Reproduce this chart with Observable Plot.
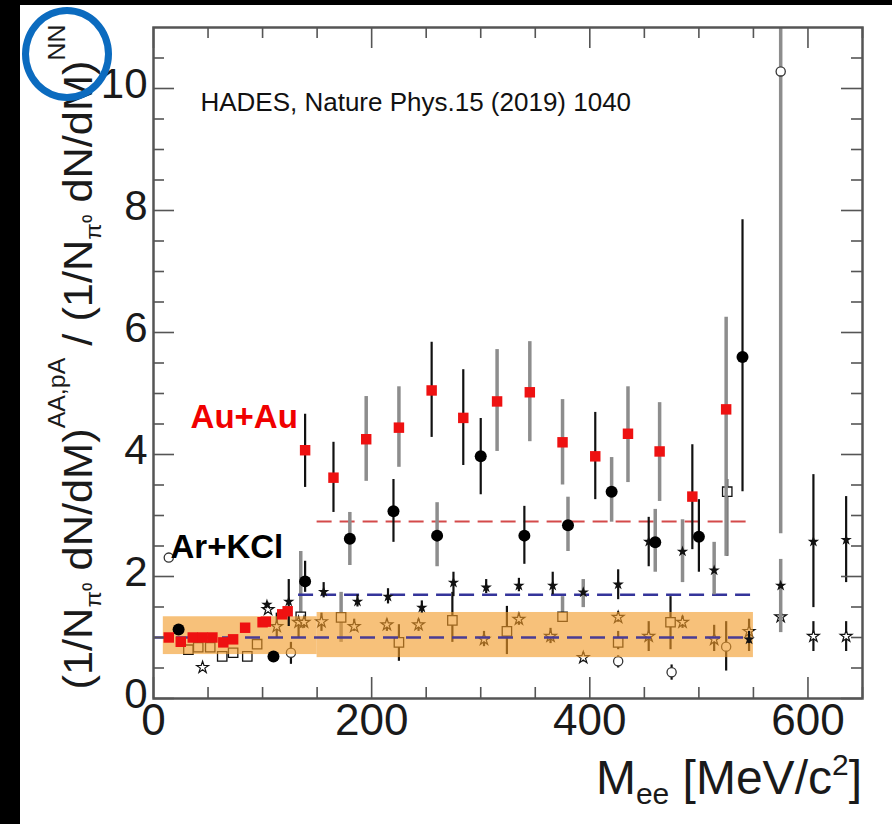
<!DOCTYPE html>
<html><head><meta charset="utf-8">
<script src="https://cdn.jsdelivr.net/npm/d3@7"></script>
<script src="https://cdn.jsdelivr.net/npm/@observablehq/plot@0.6"></script>
<style>
html,body{margin:0;padding:0;background:#fff;}
#wrap{position:relative;width:892px;height:824px;overflow:hidden;}
.bandL{position:absolute;left:0;top:0;width:20px;height:824px;background:#000;}
.bandT{position:absolute;left:0;top:0;width:892px;height:5px;background:#000;}
.ring{position:absolute;left:22px;top:7px;width:90px;height:94px;border:7px solid #0B6BBF;border-radius:50%;box-sizing:border-box;}
</style></head><body><div id="wrap"></div>
<script>
// ---------------- data ----------------
// Au+Au (red squares)
const auX  = [14,25,36,45,54,64,73,84,100,103,118,123, 139,165,195,225,255,284,315,345,375,405,435,464,494,525];
const auY  = [1.0,0.93,1.0,1.0,1.0,0.92,0.97,1.16,1.25,1.26,1.38,1.43, 4.07,3.62,4.25,4.44,5.05,4.6,4.87,5.02,4.2,3.97,4.34,4.05,3.31,4.74];
const auLo = [1.0,0.93,1.0,1.0,1.0,0.92,0.97,1.16,1.25,1.26,1.38,1.43, 3.46,3.05,3.56,3.79,4.28,3.82,4.05,4.21,3.5,3.26,3.54,3.23,2.44,2.33];
const auHi = [1.0,0.93,1.0,1.0,1.0,0.92,0.97,1.16,1.25,1.26,1.38,1.43, 4.66,4.2,4.95,5.11,5.84,5.39,5.72,5.85,4.9,4.69,5.11,4.85,4.16,6.25];
const auErr = ["stat","stat","stat","stat","stat","stat","stat","stat","stat","stat","stat","stat","stat","stat","sys","sys","stat","stat","sys","sys","sys","stat","sys","sys","stat","sys"];
// Ar+KCl (black circles)
const arX  = [23,110,139,180,220,260,300,340,380,420,460,500,540];
const arY  = [1.13,0.69,1.92,2.62,3.07,2.67,3.97,2.67,2.84,3.39,2.56,2.65,5.6];
const arLo = [1.13,0.69,1.74,2.18,2.56,2.16,3.34,2.2,2.41,2.89,2.07,2.07,3.39];
const arHi = [1.13,0.69,2.25,3.05,3.59,3.21,4.59,3.15,3.3,3.95,3.1,3.26,7.85];
const arErr = ["stat","stat","stat","sys","stat","sys","stat","stat","sys","sys","sys","stat","stat"];
// small filled stars
const paX  = [104,124,156,187,215,246,275,305,335,366,394,426,454,485,514,546,575,605,635];
const paY  = [1.54,1.59,1.75,1.59,1.67,1.49,1.9,1.82,1.85,1.85,1.74,1.87,2.57,2.41,2.1,0.97,1.85,2.57,2.6];
const paLo = [1.54,1.18,1.65,1.5,1.55,1.4,1.67,1.72,1.75,1.7,1.49,1.62,2.16,1.9,1.7,0.9,1.08,1.49,1.9];
const paHi = [1.54,1.95,1.9,1.7,1.8,1.6,2.07,1.95,1.97,2.07,1.95,2.11,2.97,2.93,2.56,1.1,2.28,3.67,3.31];
const paErr = ["stat","stat","stat","stat","stat","stat","stat","stat","stat","stat","sys","stat","stat","sys","sys","stat","sys","stat","stat"];
// open squares
const osqX  = [32,41,52,63,73,86,95,135,172,225,274,324,375,426,474,526];
const osqY  = [0.8,0.84,0.84,0.69,0.75,0.69,0.89,1.34,1.33,0.92,1.28,1.1,1.34,0.92,1.25,3.39];
const osqLo = [0.8,0.84,0.84,0.69,0.75,0.69,0.89,1.26,0.92,0.61,0.92,0.72,1.3,0.8,0.8,2.33];
const osqHi = [0.8,0.84,0.84,0.69,0.75,0.69,0.89,2.41,1.74,1.21,1.74,1.51,1.67,1.1,1.67,3.59];
const osqErr = ["stat","stat","stat","stat","stat","stat","stat","sys","sys","stat","stat","stat","sys","stat","stat","stat"];
// open stars
const ostX  = [45,105,113,133,138,154,184,214,243,303,335,364,394,426,454,485,514,546,575,605,635];
const ostY  = [0.51,1.46,1.18,1.25,1.25,1.26,1.18,1.21,1.21,0.97,1.3,1.02,0.67,1.33,1.02,1.25,0.97,1.1,1.34,1.02,1.02];
const ostLo = [0.45,1.4,1.0,1.0,1.15,1.1,1.1,1.1,1.1,0.85,1.2,0.9,0.6,1.25,0.77,1.15,0.77,0.77,1.25,0.77,0.77];
const ostHi = [0.57,1.55,1.4,1.35,1.35,1.4,1.3,1.3,1.3,1.1,1.4,1.15,0.75,1.42,1.26,1.35,1.2,1.3,1.45,1.26,1.26];
// open circles
const ociX  = [14,126,426,475,525,575];
const ociY  = [2.31,0.75,0.61,0.43,0.85,10.28];
const ociLo = [2.31,0.56,0.5,0.3,0.45,2.7];
const ociHi = [2.31,0.92,0.7,0.55,1.26,11.5];
const ociErr = ["stat","stat","stat","stat","stat","sys"];
// systematic band
const bandX1 = [9,150];
const bandX2 = [150,550];
const bandLo = [0.72,0.67];
const bandHi = [1.34,1.41];
// reference levels (dashed)
const refY  = [2.9,1.7,1.0];
const refX1 = [150,133,0];
const refX2 = [545,548,543];
const refName = ["AuAu","ArKCl","NN"];
// axis ticks
const xMajor = [0,200,400,600];
const xMinor = [50,100,150,250,300,350,450,500,550,650];
const yMajor = [0,2,4,6,8,10];
const yMinor = [0.5,1,1.5,2.5,3,3.5,4.5,5,5.5,6.5,7,7.5,8.5,9,9.5,10.5];

// ---------------- build ----------------
const tbl = (X,Y,L,Hh,E) => X.map((x,i)=>({x, y:Y[i], lo:L[i], hi:Hh[i], e: E ? E[i] : "stat"}));
const au = tbl(auX,auY,auLo,auHi,auErr);
const ar = tbl(arX,arY,arLo,arHi,arErr);
const pa = tbl(paX,paY,paLo,paHi,paErr);
const osq = tbl(osqX,osqY,osqLo,osqHi,osqErr);
const ost = tbl(ostX,ostY,ostLo,ostHi,null);
const oci = tbl(ociX,ociY,ociLo,ociHi,ociErr);
const band = bandX1.map((x1,i)=>({x1, x2:bandX2[i], y1:bandLo[i], y2:bandHi[i]}));
const refs = refY.map((y,i)=>({y, x1:refX1[i], x2:refX2[i], n:refName[i]}));

const W=892, H=824, mT=27, mR=30, mB=126, mL=153;
const fH = H-mT-mB, fW = W-mL-mR;
const GRAY="#8d8d8d", BLK="#111", AX="#555";
const FONT = "'Liberation Sans', Arial, Helvetica, sans-serif";

function bars(data){
  return [
    Plot.ruleX(data.filter(d=>d.e==="sys"), {x:"x", y1:"lo", y2:"hi", stroke:GRAY, strokeWidth:3.5, clip:true}),
    Plot.ruleX(data.filter(d=>d.e==="stat"), {x:"x", y1:"lo", y2:"hi", stroke:BLK, strokeWidth:2.2, clip:true})
  ];
}

const plot = Plot.plot({
  width: W, height: H,
  marginTop: mT, marginRight: mR, marginBottom: mB, marginLeft: mL,
  x: {domain:[0,650], axis:null},
  y: {domain:[0,11], axis:null},
  style: {background:"#fff", fontFamily: FONT, overflow:"visible"},
  marks: [
    // open symbols (beneath the band)
    ...bars(osq), ...bars(ost), ...bars(oci),
    Plot.dot(osq, {x:"x", y:"y", symbol:"square", r:5.3, fill:"#fff", stroke:BLK, strokeWidth:1.3, clip:true}),
    Plot.dot(ost, {x:"x", y:"y", symbol:"star", r:3.7, fill:"#fff", stroke:BLK, strokeWidth:1.2, clip:true}),
    Plot.dot(oci, {x:"x", y:"y", symbol:"circle", r:4.6, fill:"#fff", stroke:"#333", strokeWidth:1.3, clip:true}),
    // systematic band
    Plot.rect(band, {x1:"x1", x2:"x2", y1:"y1", y2:"y2", fill:"rgb(242,155,40)", fillOpacity:0.62}),
    // reference dashed lines
    Plot.ruleY(refs.filter(d=>d.n==="AuAu"), {y:"y", x1:"x1", x2:"x2", stroke:"#D44A4A", strokeWidth:2, strokeDasharray:"15,8"}),
    Plot.ruleY(refs.filter(d=>d.n==="ArKCl"), {y:"y", x1:"x1", x2:"x2", stroke:"#34349A", strokeWidth:2.4, strokeDasharray:"15,8"}),
    Plot.ruleY(refs.filter(d=>d.n==="NN"), {y:"y", x1:"x1", x2:"x2", stroke:"#4A3C94", strokeWidth:2.4, strokeDasharray:"15,8"}),
    // small filled stars
    ...bars(pa),
    Plot.dot(pa, {x:"x", y:"y", symbol:"star", r:3.6, fill:BLK, clip:true}),
    // Ar+KCl
    ...bars(ar),
    Plot.dot(ar, {x:"x", y:"y", r:6, fill:"#000", clip:true}),
    // Au+Au
    ...bars(au),
    Plot.dot(au, {x:"x", y:"y", symbol:"square", r:5.9, fill:"#EE1111", clip:true}),
    // frame + ticks
    Plot.frame({stroke:AX, strokeWidth:2.5}),
    Plot.ruleX(xMajor, {x:d=>d, insetTop:fH-21, stroke:AX, strokeWidth:1.6}),
    Plot.ruleX(xMajor, {x:d=>d, insetBottom:fH-21, stroke:AX, strokeWidth:1.6}),
    Plot.ruleX(xMinor, {x:d=>d, insetTop:fH-11, stroke:AX, strokeWidth:1.6}),
    Plot.ruleX(xMinor, {x:d=>d, insetBottom:fH-11, stroke:AX, strokeWidth:1.6}),
    Plot.ruleY(yMajor, {y:d=>d, insetRight:fW-21, stroke:AX, strokeWidth:1.6}),
    Plot.ruleY(yMajor, {y:d=>d, insetLeft:fW-21, stroke:AX, strokeWidth:1.6}),
    Plot.ruleY(yMinor, {y:d=>d, insetRight:fW-11, stroke:AX, strokeWidth:1.6}),
    Plot.ruleY(yMinor, {y:d=>d, insetLeft:fW-11, stroke:AX, strokeWidth:1.6}),
    // tick labels
    Plot.text(xMajor, {x:d=>d, text:d=>String(d), frameAnchor:"bottom", lineAnchor:"top", dy:5, fontSize:44, fill:"#1a1a1a"}),
    Plot.text(yMajor, {y:d=>d, text:d=>String(d), frameAnchor:"left", textAnchor:"end", dx:-6, dy:-4, fontSize:42, fill:"#1a1a1a"}),
    // annotations
    Plot.text(["HADES, Nature Phys.15 (2019) 1040"], {x:43, y:9.77, text:d=>d, textAnchor:"start", fontSize:26, fill:"#111"}),
    Plot.text(["Au+Au"], {x:34, y:4.61, text:d=>d, textAnchor:"start", fontSize:33, fontWeight:"bold", fill:"#F00000"}),
    Plot.text(["Ar+KCl"], {x:15.6, y:2.48, text:d=>d, textAnchor:"start", fontSize:33, fontWeight:"bold", fill:"#000"})
  ]
});

const svg = d3.select(plot);
// y-axis title
const yt = svg.append("text")
  .attr("transform","translate(92,357) rotate(-90)")
  .attr("text-anchor","middle").attr("font-size",40).attr("fill","#1a1a1a").attr("font-family",FONT)
  .attr("textLength",665).attr("lengthAdjust","spacingAndGlyphs");
yt.append("tspan").text("(1/N");
yt.append("tspan").attr("dy",9).attr("font-size",22).text("π⁰");
yt.append("tspan").attr("dy",-9).text(" dN/dM)");
yt.append("tspan").attr("dy",-27).attr("font-size",23).text("AA,pA");
yt.append("tspan").attr("dy",27).text(" / (1/N");
yt.append("tspan").attr("dy",9).attr("font-size",22).text("π⁰");
yt.append("tspan").attr("dy",-9).text(" dN/dM)");
yt.append("tspan").attr("dy",-27).attr("font-size",23).text("NN");
// x-axis title
const xt = svg.append("text")
  .attr("x",862).attr("y",794).attr("text-anchor","end")
  .attr("font-size",48).attr("fill","#1a1a1a").attr("font-family",FONT);
xt.append("tspan").text("M");
xt.append("tspan").attr("dy",10).attr("font-size",30).text("ee");
xt.append("tspan").attr("dy",-10).text(" [MeV/c");
xt.append("tspan").attr("dy",-19).attr("font-size",30).text("2");
xt.append("tspan").attr("dy",19).text("]");

const wrap = document.getElementById("wrap");
wrap.appendChild(plot);
for (const c of ["bandL","bandT","ring"]) { const d=document.createElement("div"); d.className=c; wrap.appendChild(d); }
</script></body></html>
